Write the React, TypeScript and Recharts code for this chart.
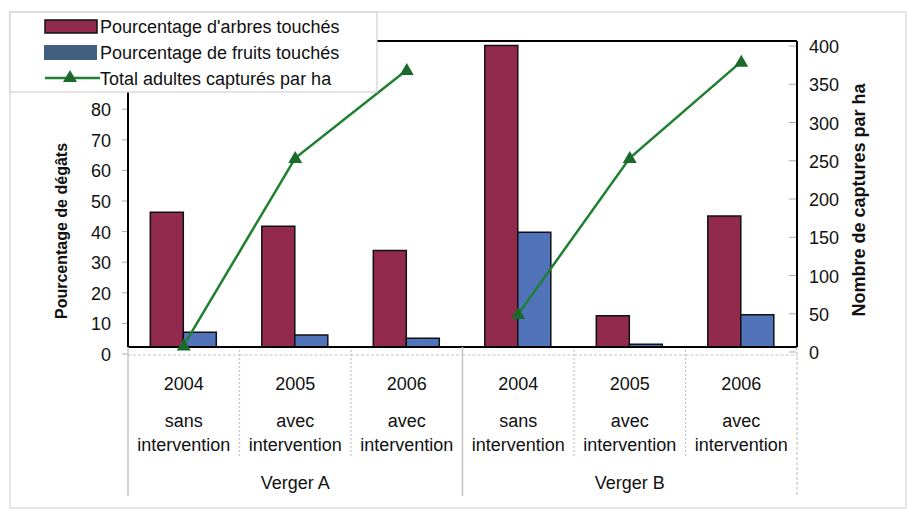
import React from 'react';
import { ComposedChart, Bar, Line, XAxis, YAxis, ReferenceLine } from 'recharts';

// ---- data ----
const years = ['2004', '2005', '2006', '2004', '2005', '2006'];
const interventions = ['sans', 'avec', 'avec', 'sans', 'avec', 'avec'];
const vergers = ['Verger A', 'Verger A', 'Verger A', 'Verger B', 'Verger B', 'Verger B'];
const arbresTouches = [44, 39.5, 31.5, 98.5, 10.2, 42.8];
const fruitsTouches = [4.8, 3.9, 2.9, 37.5, 0.9, 10.5];
const capturesVergerA: (number | null)[] = [2, 247, 362, null, null, null];
const capturesVergerB: (number | null)[] = [null, null, null, 43, 247, 373];
const leftTicks = [0, 10, 20, 30, 40, 50, 60, 70, 80, 90, 100];
const leftVisibleMax = 80; // 90 and 100 are hidden behind the legend in the reference
const rightTicks = [0, 50, 100, 150, 200, 250, 300, 350, 400];

const legendLabels = [
  "Pourcentage d'arbres touchés",
  'Pourcentage de fruits touchés',
  'Total adultes capturés par ha',
];
const leftTitle = 'Pourcentage de dégâts';
const rightTitle = 'Nombre de captures par ha';

const data = years.map((y, i) => ({
  key: `${vergers[i]}-${y}`,
  year: y,
  intervention: interventions[i],
  verger: vergers[i],
  arbres: arbresTouches[i],
  fruits: fruitsTouches[i],
  captA: capturesVergerA[i],
  captB: capturesVergerB[i],
}));

// ---- layout ----
const W = 916;
const H = 517;
const PLOT_L = 128;
const PLOT_R = 797;
const PLOT_T = 41;
const PLOT_B = 347;
const LEFT_AXIS_W = 40;
const RIGHT_AXIS_W = 50;
const X_AXIS_H = 150;
const BAND = (PLOT_R - PLOT_L) / years.length;

const FONT = '"Liberation Sans", Arial, sans-serif';
const TEXT = '#111';
const MAROON = '#912A4C';
const BLUE = '#5073BA';
const GREEN = '#1F8032';
const GREEN_DARK = '#1C6A2B';
const SEP = '#c4c4c4';

const XTick = (props: any) => {
  const { x, payload } = props;
  const i = data.findIndex((d) => d.key === payload.value);
  if (i < 0) return null;
  const d = data[i];
  const left = x - BAND / 2;
  const right = x + BAND / 2;
  const groupStart = i % 3 === 0;
  return (
    <g>
      <line x1={left} x2={right} y1={355} y2={355} stroke={SEP} strokeWidth={1} strokeDasharray="3 2" />
      {groupStart ? (
        <line x1={left} x2={left} y1={PLOT_B} y2={496} stroke={SEP} strokeWidth={1.5} />
      ) : (
        <line x1={left} x2={left} y1={PLOT_B + 3} y2={458} stroke={SEP} strokeWidth={1.2} strokeDasharray="2 2" />
      )}
      {i === data.length - 1 && (
        <line x1={right} x2={right} y1={PLOT_B} y2={496} stroke={SEP} strokeWidth={1.2} strokeDasharray="3 2" />
      )}
      <text x={x} y={389.5} textAnchor="middle" fontSize={18} fontFamily={FONT} fill={TEXT}>
        {d.year}
      </text>
      <text x={x} y={427} textAnchor="middle" fontSize={18} fontFamily={FONT} fill={TEXT}>
        {d.intervention}
      </text>
      <text x={x} y={451} textAnchor="middle" fontSize={18} fontFamily={FONT} fill={TEXT}>
        intervention
      </text>
      {i % 3 === 1 && (
        <text x={x} y={489} textAnchor="middle" fontSize={18} fontFamily={FONT} fill={TEXT}>
          {d.verger}
        </text>
      )}
    </g>
  );
};

const LeftTick = (props: any) => {
  const { y, payload } = props;
  if (payload.value > leftVisibleMax) return <g />;
  return (
    <g>
      <line x1={PLOT_L - 6} x2={PLOT_L - 1} y1={y + 7} y2={y + 7} stroke="#aaa" strokeWidth={1} />
      <text x={111} y={y + 14} textAnchor="end" fontSize={18} fontFamily={FONT} fill={TEXT}>
        {payload.value}
      </text>
    </g>
  );
};

const RightTick = (props: any) => {
  const { y, payload } = props;
  return (
    <g>
      <line x1={PLOT_R - 8} x2={PLOT_R - 1} y1={y + 5} y2={y + 5} stroke="#aaa" strokeWidth={1} />
      <text x={809} y={y + 12} textAnchor="start" fontSize={18} fontFamily={FONT} fill={TEXT}>
        {payload.value}
      </text>
    </g>
  );
};

const Triangle = ({ cx, cy, fill }: { cx: number; cy: number; fill: string }) => (
  <path d={`M${cx},${cy - 7} L${cx - 7},${cy + 5} L${cx + 7},${cy + 5} Z`} fill={fill} />
);

const renderTri = (props: any) => {
  const { cx, cy, index } = props;
  if (cx == null || cy == null || Number.isNaN(cy)) return <g key={`t-${index}`} />;
  return (
    <g key={`t-${index}`}>
      <Triangle cx={cx} cy={cy} fill={GREEN_DARK} />
    </g>
  );
};

export default function App() {
  return (
    <div style={{ position: 'absolute', left: 0, top: 0, width: W, height: H, background: '#fff' }}>
      <ComposedChart
        width={W}
        height={H}
        data={data}
        margin={{
          top: PLOT_T,
          right: W - PLOT_R - RIGHT_AXIS_W,
          left: PLOT_L - LEFT_AXIS_W,
          bottom: H - PLOT_B - X_AXIS_H,
        }}
        barGap={0}
        barCategoryGap="20%"
      >
        <XAxis
          dataKey="key"
          xAxisId={0}
          height={X_AXIS_H}
          interval={0}
          tickLine={false}
          axisLine={{ stroke: '#000', strokeWidth: 2 }}
          tick={<XTick />}
        />
        <YAxis
          yAxisId="left"
          orientation="left"
          width={LEFT_AXIS_W}
          domain={[0, 100]}
          ticks={leftTicks}
          interval={0}
          tickLine={false}
          axisLine={{ stroke: '#000', strokeWidth: 2 }}
          tick={<LeftTick />}
        />
        <YAxis
          yAxisId="right"
          orientation="right"
          width={RIGHT_AXIS_W}
          domain={[0, 400]}
          ticks={rightTicks}
          interval={0}
          tickLine={false}
          axisLine={{ stroke: '#000', strokeWidth: 2 }}
          tick={<RightTick />}
        />
        <ReferenceLine yAxisId="left" y={100} stroke="#000" strokeWidth={2} />
        <Bar yAxisId="left" dataKey="arbres" fill={MAROON} stroke="#111" strokeWidth={1.5} isAnimationActive={false} />
        <Bar yAxisId="left" dataKey="fruits" fill={BLUE} stroke="#111" strokeWidth={1.5} isAnimationActive={false} />
        <Line
          yAxisId="right"
          dataKey="captA"
          stroke={GREEN}
          strokeWidth={2.5}
          dot={renderTri}
          activeDot={false}
          connectNulls={false}
          isAnimationActive={false}
          legendType="none"
        />
        <Line
          yAxisId="right"
          dataKey="captB"
          stroke={GREEN}
          strokeWidth={2.5}
          dot={renderTri}
          activeDot={false}
          connectNulls={false}
          isAnimationActive={false}
          legendType="none"
        />
      </ComposedChart>
      <svg
        width={W}
        height={H}
        style={{ position: 'absolute', left: 0, top: 0, pointerEvents: 'none' }}
      >
        {/* outer frame */}
        <rect x={10} y={12} width={896} height={496} fill="none" stroke="#d6d6d6" strokeWidth={1.2} />
        {/* legend box */}
        <rect x={10} y={12} width={367} height={80} fill="#fff" stroke="#d0d0d0" strokeWidth={1.2} />
        <rect x={45} y={20} width={52} height={13} fill={MAROON} stroke="#111" strokeWidth={1.5} />
        <text x={100} y={33.3} fontSize={18} fontFamily={FONT} fill={TEXT}>{legendLabels[0]}</text>
        <rect x={44} y={45} width={53} height={15} fill="#41607F" />
        <text x={100} y={59.3} fontSize={18} fontFamily={FONT} fill={TEXT}>{legendLabels[1]}</text>
        <line x1={45} x2={100} y1={78} y2={78} stroke={GREEN} strokeWidth={2.5} />
        <Triangle cx={70} cy={77} fill={GREEN_DARK} />
        <text x={100} y={85} fontSize={18} fontFamily={FONT} fill={TEXT}>{legendLabels[2]}</text>
        {/* axis titles */}
        <text
          x={61}
          y={231}
          dy="0.35em"
          transform="rotate(-90 61 231)"
          textAnchor="middle"
          fontSize={16}
          fontWeight="bold"
          fontFamily={FONT}
          fill={TEXT}
        >
          {leftTitle}
        </text>
        <text
          x={859}
          y={200}
          dy="0.35em"
          transform="rotate(-90 859 200)"
          textAnchor="middle"
          fontSize={18}
          fontWeight="bold"
          fontFamily={FONT}
          fill={TEXT}
        >
          {rightTitle}
        </text>
      </svg>
    </div>
  );
}
